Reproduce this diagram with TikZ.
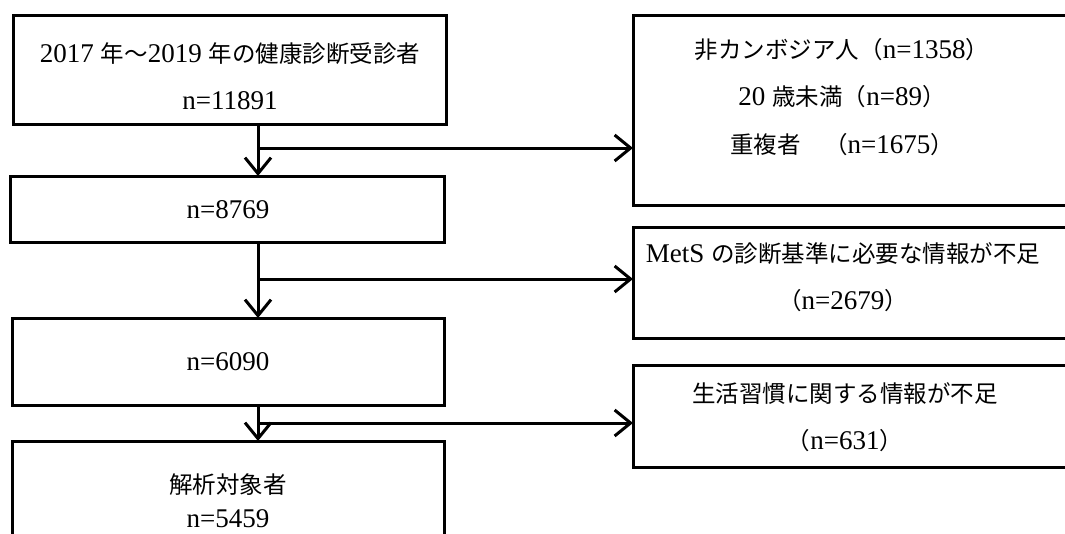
\documentclass[tikz,border=0pt]{standalone}
\usepackage{fontspec}
\setmainfont{Liberation Serif}[Scale=1.15]
\newfontfamily\cjk{Noto Sans CJK JP}
\newcommand\jp[1]{{\cjk #1}}
\usetikzlibrary{arrows.meta}
\begin{document}
\begin{tikzpicture}[x=1pt,y=-1pt,line width=3pt,
  box/.style={draw,line width=3pt,inner sep=0pt,outer sep=0pt,anchor=north west},
  txt/.style={inner sep=0pt,font=\fontsize{23.5}{24}\selectfont},
  arr/.style={-{Straight Barb[length=16pt,width=26pt]}}]
\useasboundingbox (0,0) rectangle (1065,533);
\clip (0,0) rectangle (1065,533);
% left column boxes
\node[box,minimum width=433pt,minimum height=109pt] (b1) at (13,15) {};
\node[box,minimum width=434pt,minimum height=66pt] (b2) at (10,176) {};
\node[box,minimum width=432pt,minimum height=87pt] (b3) at (12,318) {};
\node[box,minimum width=432pt,minimum height=150pt] (b4) at (12,441) {};
% right column boxes (cut off at right edge)
\node[box,minimum width=500pt,minimum height=190pt] (r1) at (633,15) {};
\node[box,minimum width=500pt,minimum height=111pt] (r2) at (633,227) {};
\node[box,minimum width=500pt,minimum height=102pt] (r3) at (633,365) {};
% texts
\node[txt] (t1a) at (230,54) {2017 \jp{年～}2019 \jp{年の健康診断受診者}};
\node[txt] (t1b) at (230,101) {n=11891};
\node[txt] (t2) at (228,210) {n=8769};
\node[txt] (t3) at (228,362) {n=6090};
\node[txt] (t4a) at (228,485) {\jp{解析対象者}};
\node[txt] (t4b) at (228,519) {n=5459};
\node[txt] (r1a) at (842,50) {\jp{非カンボジア人（}n=1358\jp{）}};
\node[txt] (r1b) at (842,97) {20 \jp{歳未満（}n=89\jp{）}};
\node[txt] (r1c) at (842,145) {\jp{重複者　（}n=1675\jp{）}};
\node[txt] (r2a) at (843,254) {MetS \jp{の診断基準に必要な情報が不足}};
\node[txt] (r2b) at (843,301) {\jp{（}n=2679\jp{）}};
\node[txt] (r3a) at (845,394) {\jp{生活習慣に関する情報が不足}};
\node[txt] (r3b) at (845,441) {\jp{（}n=631\jp{）}};
% connectors
\coordinate (c1) at (258,148);
\coordinate (c2) at (258,279);
\coordinate (c3) at (258,423);
\draw[arr] (b1.south -| c1) -- (b2.north -| c1);
\draw[arr] (c1) -- (r1.west |- c1);
\draw[arr] (b2.south -| c2) -- (b3.north -| c2);
\draw[arr] (c2) -- (r2.west |- c2);
\draw[arr] (b3.south -| c3) -- (b4.north -| c3);
\draw[arr] (c3) -- (r3.west |- c3);
\end{tikzpicture}
\end{document}
